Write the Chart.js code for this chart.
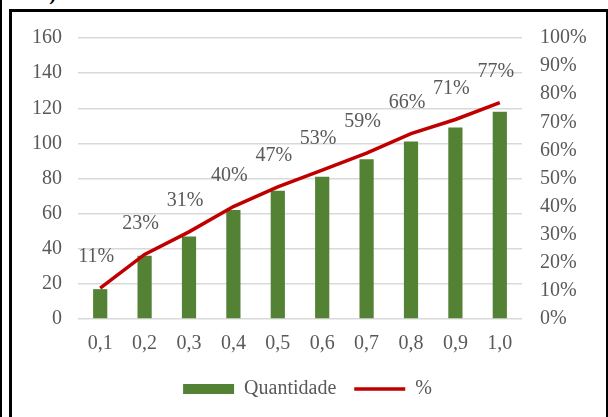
<!DOCTYPE html>
<html>
<head>
<meta charset="utf-8">
<script src="https://cdn.jsdelivr.net/npm/chart.js@4/dist/chart.umd.min.js"></script>
<style>
    html, body { margin: 0; padding: 0; background: #fff; }
    body { width: 608px; height: 417px; position: relative; overflow: hidden; }
    #outer { position: absolute; left: 0; top: 0; width: 2px; height: 417px; background: #000; }
    #caption { position: absolute; left: 20px; top: -17px; font: bold 21px "Liberation Serif", serif; line-height: 21px; color: #000; }
    #frame { position: absolute; left: 9px; top: 9px; width: 594px; height: 420px;
        border-left: 3px solid #000; border-top: 3px solid #000; border-right: 3px solid #000; }
    #wrap { position: absolute; left: 12px; top: 12px; width: 591px; height: 405px; }
</style>
</head>
<body>
<div id="outer"></div>
<div id="caption">km)</div>
<div id="frame"></div>
<div id="wrap"><canvas id="myChart"></canvas></div>
<script>
// Dados do gráfico
const categorias = ["0,1", "0,2", "0,3", "0,4", "0,5", "0,6", "0,7", "0,8", "0,9", "1,0"];
const quantidade = [17, 36, 47, 62, 73, 81, 91, 101, 109, 118];
const percentual = [11, 23, 31, 40, 47, 53, 59, 66, 71, 77];

const fonte = { family: "'Liberation Serif', 'Times New Roman', serif", size: 20 };
const cinza = "#595959";

// Rótulos de % acima dos pontos da linha
const rotulosLinha = {
    id: "rotulosLinha",
    afterDatasetsDraw(chart) {
        const ctx = chart.ctx;
        const meta = chart.getDatasetMeta(1);
        ctx.save();
        ctx.font = fonte.size + "px " + fonte.family;
        ctx.fillStyle = cinza;
        ctx.textAlign = "center";
        ctx.textBaseline = "middle";
        meta.data.forEach(function (p, i) {
            ctx.fillText(percentual[i] + "%", p.x - 4, p.y - 31);
        });
        ctx.restore();
    },
};

const ctx = document.getElementById("myChart").getContext("2d");
const myChart = new Chart(ctx, {
    type: "bar",
    data: {
        labels: categorias,
        datasets: [
            {
                label: "Quantidade",
                data: quantidade,
                backgroundColor: "#548235",
                yAxisID: "y",
                barPercentage: 0.32,
                categoryPercentage: 1,
                pointStyle: "rect",
                order: 2,
            },
            {
                type: "line",
                label: "%",
                data: percentual,
                borderColor: "#C00000",
                backgroundColor: "#C00000",
                borderWidth: 3.5,
                pointRadius: 0,
                pointStyle: "line",
                tension: 0,
                yAxisID: "y1",
                order: 1,
            },
        ],
    },
    options: {
        responsive: true,
        maintainAspectRatio: false,
        animation: false,
        layout: { padding: { top: 26, bottom: 8 } },
        scales: {
            x: {
                grid: { display: false },
                border: { display: false },
                ticks: { color: cinza, font: fonte, padding: 5 },
            },
            y: {
                position: "left",
                min: 0,
                max: 160,
                ticks: { stepSize: 20, color: cinza, font: fonte, padding: 16 },
                grid: { color: "#d9d9d9", lineWidth: 1.5, drawTicks: false },
                border: { display: false },
                afterFit(axis) { axis.width = 66; axis.paddingTop = 0; },
            },
            y1: {
                position: "right",
                min: 0,
                max: 100,
                ticks: {
                    stepSize: 10,
                    autoSkip: false,
                    color: cinza,
                    font: fonte,
                    padding: 18,
                    callback: function (v) { return v + "%"; },
                },
                grid: { display: false, drawTicks: false },
                border: { display: false },
                afterFit(axis) { axis.width = 81; axis.paddingTop = 0; },
            },
        },
        plugins: {
            legend: {
                position: "bottom",
                labels: {
                    color: cinza,
                    font: fonte,
                    usePointStyle: true,
                    pointStyleWidth: 51,
                    boxWidth: 51,
                    boxHeight: 10,
                    padding: 18,
                    sort: function (a, b) { return a.datasetIndex - b.datasetIndex; },
                },
            },
            tooltip: { enabled: false },
        },
    },
    plugins: [rotulosLinha],
});
</script>
</body>
</html>
